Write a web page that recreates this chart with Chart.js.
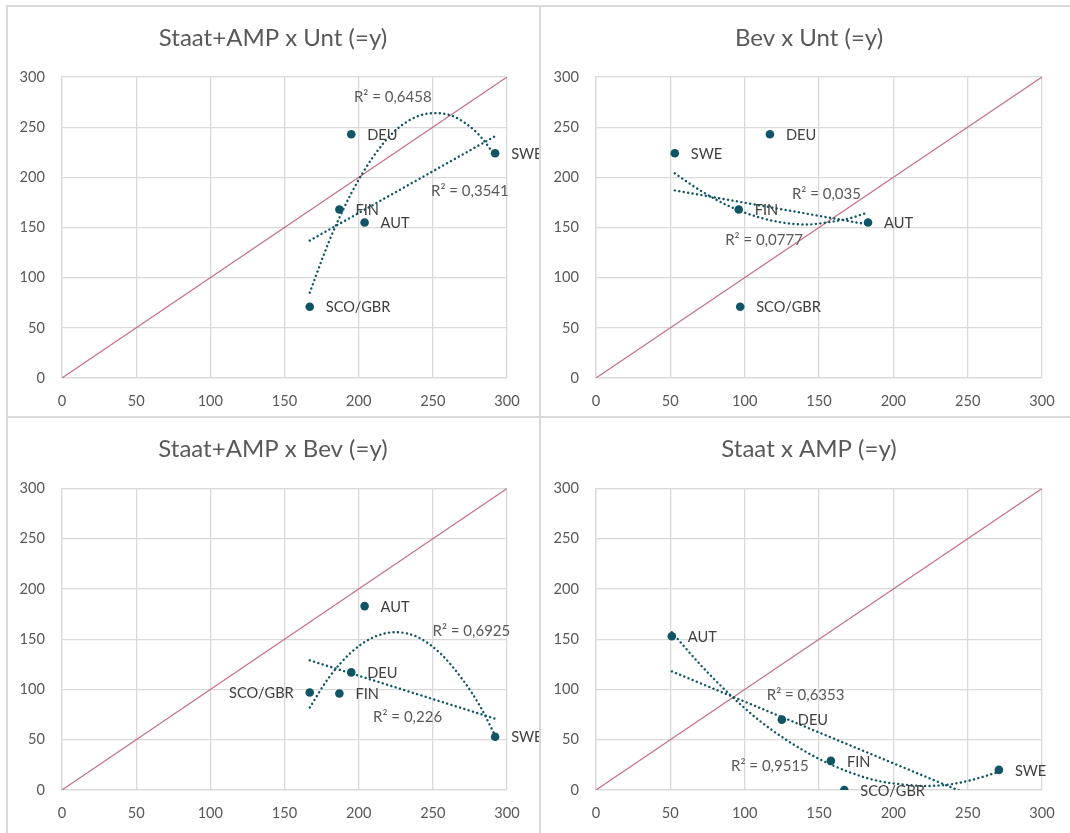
<!DOCTYPE html>
<html>
<head>
<meta charset="utf-8">
<script src="https://cdn.jsdelivr.net/npm/chart.js@4.4.1/dist/chart.umd.min.js"></script>
<style>
	body { margin: 0; background: #ffffff; width: 1070px; height: 833px; overflow: hidden; position: relative; }
	canvas { position: absolute; }
	.rule { position: absolute; background: #d9d9d9; }
</style>
</head>
<body>
<div class="rule" style="left:6px;top:5px;width:1064px;height:2px"></div>
<div class="rule" style="left:6px;top:5px;width:2px;height:828px"></div>
<div class="rule" style="left:539px;top:5px;width:2px;height:828px"></div>
<div class="rule" style="left:6px;top:416px;width:1064px;height:2px"></div>
<canvas id="chart-staatamp-unt" width="531" height="408" style="left:8px;top:7px"></canvas>
<canvas id="chart-bev-unt" width="529" height="408" style="left:541px;top:7px"></canvas>
<canvas id="chart-staatamp-bev" width="531" height="415" style="left:8px;top:418px"></canvas>
<canvas id="chart-staat-amp" width="529" height="415" style="left:541px;top:418px"></canvas>
<script>
// countries and their values
var countries = ["AUT", "DEU", "FIN", "SCO/GBR", "SWE"];
var staatAmp = [204, 195, 187, 167, 292];
var unt = [155, 243, 168, 71, 224];
var bev = [183, 117, 96, 97, 53];
var staat = [51, 125, 158, 167, 271];
var amp = [153, 70, 29, 0, 20];

var axisTicks = [0, 50, 100, 150, 200, 250, 300];
var diagX = [0, 300];
var diagY = [0, 300];

// trend lines
var fit1LinX = [167, 292];
var fit1Lin = [137, 241];
var fit1PolyX = [167, 180, 195, 210, 225, 240, 252, 265, 280, 292];
var fit1Poly = [85, 136, 184, 221, 247, 261, 264, 260, 244, 222];

var fit2LinX = [53, 183];
var fit2Lin = [187, 153];
var fit2PolyX = [53, 70, 90, 110, 130, 142, 155, 170, 183];
var fit2Poly = [204, 187, 171, 160, 154, 153, 155, 159, 165];

var fit3LinX = [167, 292];
var fit3Lin = [129, 71];
var fit3PolyX = [167, 180, 195, 210, 225, 240, 255, 270, 282, 292];
var fit3Poly = [82, 112, 137, 152, 157, 152, 136, 110, 83, 54];

var fit4LinX = [51, 271];
var fit4Lin = [118, -17];
var fit4PolyX = [51, 70, 90, 110, 130, 150, 170, 190, 210, 221, 235, 250, 271];
var fit4Poly = [157, 125, 95, 69, 48, 31, 18, 9, 5, 4, 5, 9, 18];

var r2Texts1 = ["R² = 0,6458", "R² = 0,3541"];
var r2Texts2 = ["R² = 0,035", "R² = 0,0777"];
var r2Texts3 = ["R² = 0,6925", "R² = 0,226"];
var r2Texts4 = ["R² = 0,6353", "R² = 0,9515"];

var teal = "#0f5566";
var pink = "#c4708a";

function toPoints(xs, ys) {
	var points = [];
	for(var i = 0; i < xs.length; i++)
		points.push({x: xs[i], y: ys[i]});
	return points;
}

// title, country names and R² labels
var textPlugin = {
	id: "panelTexts",
	afterDatasetsDraw: function(chart, args, opts) {
		var ctx = chart.ctx;
		var meta = chart.getDatasetMeta(0);
		ctx.save();
		ctx.textBaseline = "middle";

		ctx.font = "24px Lato";
		ctx.fillStyle = "#595959";
		ctx.textAlign = "center";
		ctx.fillText(opts.title, opts.titleX, 31);

		ctx.font = "14.6px Lato";
		ctx.fillStyle = "#404040";
		for(var i = 0; i < countries.length; i++) {
			var el = meta.data[i];
			if(opts.leftNames.indexOf(countries[i]) >= 0) {
				ctx.textAlign = "right";
				ctx.fillText(countries[i], el.x - 16, el.y + 1);
			} else {
				ctx.textAlign = "left";
				ctx.fillText(countries[i], el.x + 16, el.y + 1);
			}
		}

		ctx.font = "15px Lato";
		ctx.fillStyle = "#595959";
		ctx.textAlign = "center";
		for(var j = 0; j < opts.r2.length; j++) {
			var r = opts.r2[j];
			ctx.fillText(r.text, chart.scales.x.getPixelForValue(r.x), chart.scales.y.getPixelForValue(r.y));
		}
		ctx.restore();
	}
};

function makePanel(canvasId, p) {
	var axis = function(w, h) {
		return {
			type: "linear",
			min: 0,
			max: 300,
			afterBuildTicks: function(scale) { scale.ticks = axisTicks.map(function(v) { return {value: v}; }); },
			afterFit: function(scale) {
				if(w) scale.width = w;
				if(h) scale.height = h;
			},
			grid: { color: "#d9d9d9", lineWidth: 1.3, drawTicks: false },
			border: { color: "#d9d9d9", width: 1.3 },
			ticks: { color: "#595959", font: { size: 14.6, family: "Lato" }, padding: h ? 15 : 17 }
		};
	};
	var lineBase = {
		showLine: true,
		pointRadius: 0,
		borderColor: teal,
		borderWidth: 2.4,
		borderDash: [0.1, 4.4],
		borderCapStyle: "round",
		fill: false
	};
	return new Chart(document.getElementById(canvasId), {
		type: "scatter",
		data: {
			datasets: [
				{
					data: toPoints(p.xs, p.ys),
					pointRadius: 4.3,
					pointBackgroundColor: teal,
					pointBorderWidth: 0
				},
				Object.assign({ data: toPoints(p.linX, p.lin) }, lineBase),
				Object.assign({ data: toPoints(p.polyX, p.poly), cubicInterpolationMode: "monotone" }, lineBase),
				{
					data: toPoints(diagX, diagY),
					showLine: true,
					pointRadius: 0,
					borderColor: pink,
					borderWidth: 1.2
				}
			]
		},
		options: {
			responsive: false,
			animation: false,
			events: [],
			layout: { padding: { left: 0, right: p.padR, top: p.padT, bottom: 0 } },
			scales: {
				x: axis(0, p.xAxisH),
				y: axis(p.yAxisW, 0)
			},
			plugins: {
				legend: { display: false },
				tooltip: { enabled: false },
				title: { display: false },
				panelTexts: { title: p.title, titleX: p.titleX, r2: p.r2, leftNames: p.leftNames || [] }
			}
		},
		plugins: [textPlugin]
	});
}

window.onload = function() {
	makePanel("chart-staatamp-unt", {
		title: "Staat+AMP x Unt (=y)", titleX: 265,
		xs: staatAmp, ys: unt,
		linX: fit1LinX, lin: fit1Lin, polyX: fit1PolyX, poly: fit1Poly,
		r2: [{text: r2Texts1[0], x: 223, y: 280}, {text: r2Texts1[1], x: 275, y: 186}],
		padR: 32, padT: 70, yAxisW: 54, xAxisH: 37
	});
	makePanel("chart-bev-unt", {
		title: "Bev x Unt (=y)", titleX: 268,
		xs: bev, ys: unt,
		linX: fit2LinX, lin: fit2Lin, polyX: fit2PolyX, poly: fit2Poly,
		r2: [{text: r2Texts2[0], x: 155, y: 183}, {text: r2Texts2[1], x: 113, y: 137}],
		padR: 28, padT: 70, yAxisW: 55, xAxisH: 37
	});
	makePanel("chart-staatamp-bev", {
		title: "Staat+AMP x Bev (=y)", titleX: 265,
		xs: staatAmp, ys: bev,
		linX: fit3LinX, lin: fit3Lin, polyX: fit3PolyX, poly: fit3Poly,
		r2: [{text: r2Texts3[0], x: 276, y: 158}, {text: r2Texts3[1], x: 233, y: 72}],
		leftNames: ["SCO/GBR"],
		padR: 32, padT: 70.5, yAxisW: 54, xAxisH: 43
	});
	makePanel("chart-staat-amp", {
		title: "Staat x AMP (=y)", titleX: 268,
		xs: staat, ys: amp,
		linX: fit4LinX, lin: fit4Lin, polyX: fit4PolyX, poly: fit4Poly,
		r2: [{text: r2Texts4[0], x: 141, y: 94}, {text: r2Texts4[1], x: 117, y: 24}],
		padR: 28, padT: 70.5, yAxisW: 55, xAxisH: 43
	});
}
</script>
</body>
</html>
